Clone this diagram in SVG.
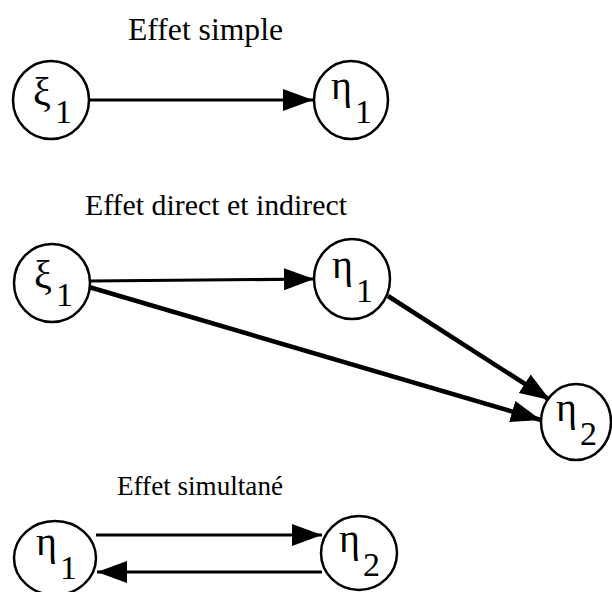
<svg xmlns="http://www.w3.org/2000/svg" width="612" height="592" viewBox="0 0 612 592">
<style>
.node ellipse{fill:#fff;stroke:#000;stroke-width:2.5}
.title{font-family:"Liberation Serif","Times New Roman",serif;font-size:30px;fill:#000}
.sym{font-family:"Liberation Serif","Times New Roman",serif;font-size:40px;fill:#000}
.sub{font-family:"Liberation Serif","Times New Roman",serif;font-size:34px;fill:#000}
.edge{stroke:#000;stroke-width:3.2;fill:none;marker-end:url(#ah)}
.edge.thick{stroke-width:4.5}
</style>
<defs>
<marker id="ah" markerUnits="userSpaceOnUse" markerWidth="32" markerHeight="24" refX="30" refY="11" orient="auto">
<path d="M0,0 L30,11 L0,22 Z" fill="#000"/>
</marker>
</defs>
<text class="title" x="128" y="40" style="font-size:31px" textLength="155" lengthAdjust="spacingAndGlyphs">Effet simple</text>
<text class="title" x="85" y="215" textLength="262" lengthAdjust="spacingAndGlyphs">Effet direct et indirect</text>
<text class="title" x="117" y="495" style="font-size:27px" textLength="166" lengthAdjust="spacingAndGlyphs">Effet simultané</text>
<g id="connectors">
<line class="edge" x1="89" y1="100" x2="313" y2="100"/>
<line class="edge" x1="90" y1="281" x2="314" y2="279"/>
<line class="edge thick" x1="388" y1="296" x2="550" y2="400"/>
<line class="edge thick" x1="89" y1="287" x2="541" y2="420"/>
<line class="edge" x1="96" y1="535" x2="322" y2="535"/>
<line class="edge" x1="322" y1="572" x2="97" y2="572"/>
</g>
<g id="top_xi1" class="node"><ellipse cx="51" cy="100" rx="38" ry="39"/><text class="sym" x="33" y="105">ξ</text><text class="sub" x="55" y="123">1</text></g>
<g id="top_eta1" class="node"><ellipse cx="351" cy="100" rx="37" ry="39"/><text class="sym" x="331" y="99">η</text><text class="sub" x="355" y="123">1</text></g>
<g id="mid_xi1" class="node"><ellipse cx="52" cy="283" rx="38" ry="39"/><text class="sym" x="34" y="288">ξ</text><text class="sub" x="56" y="306">1</text></g>
<g id="mid_eta1" class="node"><ellipse cx="352" cy="279" rx="38" ry="40"/><text class="sym" x="332" y="278">η</text><text class="sub" x="356" y="302">1</text></g>
<g id="mid_eta2" class="node"><ellipse cx="576" cy="422" rx="35" ry="38"/><text class="sym" x="556" y="421">η</text><text class="sub" x="580" y="445">2</text></g>
<g id="bot_eta1" class="node"><ellipse cx="55" cy="558" rx="41" ry="37"/><text class="sym" x="36" y="555">η</text><text class="sub" x="60" y="579">1</text></g>
<g id="bot_eta2" class="node"><ellipse cx="359" cy="553" rx="38" ry="37"/><text class="sym" x="339" y="552">η</text><text class="sub" x="363" y="576">2</text></g>
</svg>
